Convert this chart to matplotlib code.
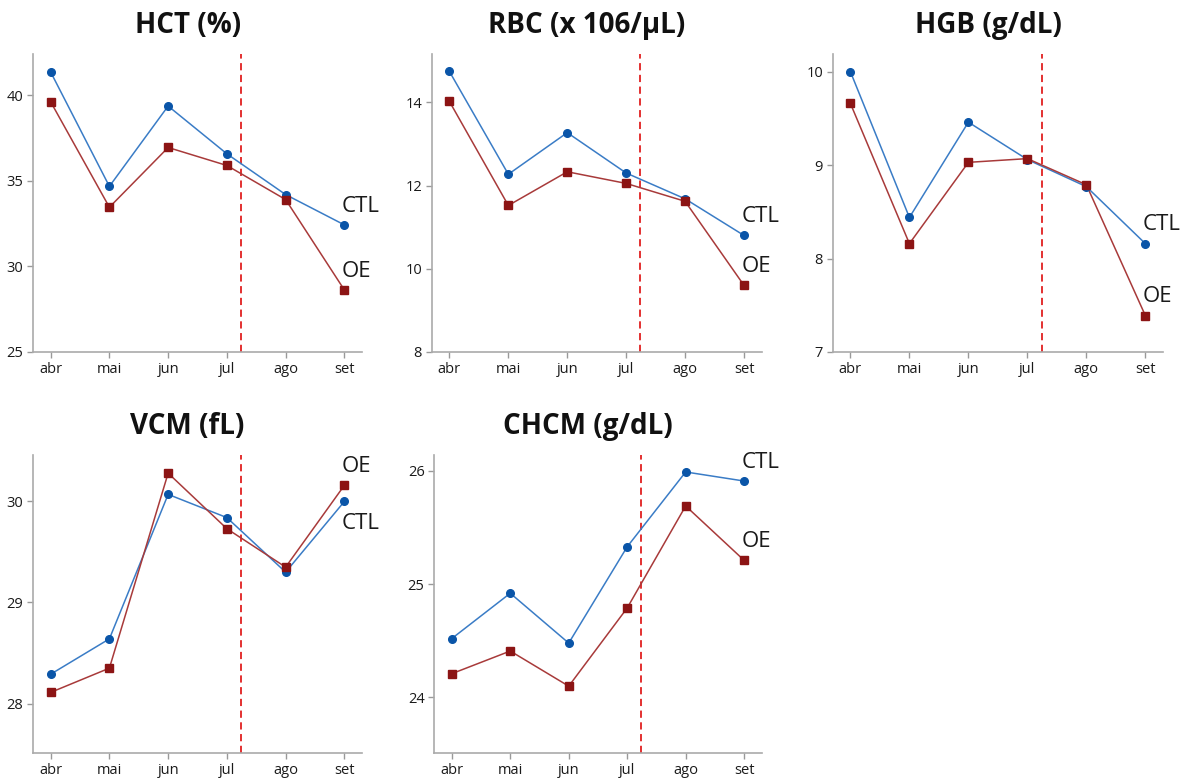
import numpy as np
import matplotlib
matplotlib.use("Agg")
import matplotlib.pyplot as plt

plt.rcParams['font.family'] = ['Open Sans', 'DejaVu Sans']

meses = ['abr', 'mai', 'jun', 'jul', 'ago', 'set']

# valores
hct_ctl = [41.35, 34.67, 39.36, 36.57, 34.19, 32.42]
hct_oe = [39.61, 33.45, 36.94, 35.89, 33.90, 28.62]

rbc_ctl = [14.74, 12.27, 13.27, 12.30, 11.68, 10.80]
rbc_oe = [14.02, 11.52, 12.33, 12.05, 11.62, 9.60]

hgb_ctl = [10.00, 8.44, 9.46, 9.06, 8.77, 8.16]
hgb_oe = [9.66, 8.16, 9.03, 9.07, 8.79, 7.39]

vcm_ctl = [28.29, 28.64, 30.07, 29.84, 29.30, 30.00]
vcm_oe = [28.11, 28.35, 30.28, 29.73, 29.35, 30.16]

chcm_ctl = [24.52, 24.92, 24.48, 25.33, 25.99, 25.91]
chcm_oe = [24.21, 24.41, 24.10, 24.79, 25.69, 25.21]

titulos = ['HCT (%)', 'RBC (x 106/µL)', 'HGB (g/dL)', 'VCM (fL)', 'CHCM (g/dL)']

# (left, bottom, width, height), ylim, yticks, label placement
paineis = [
    ([0.0277, 0.5476, 0.2760, 0.3830], (25, 42.4), [25, 30, 35, 40], hct_ctl, hct_oe, ('up', 'up')),
    ([0.3622, 0.5476, 0.2768, 0.3830], (8, 15.16), [8, 10, 12, 14], rbc_ctl, rbc_oe, ('up', 'up')),
    ([0.6986, 0.5476, 0.2771, 0.3830], (7, 10.19), [7, 8, 9, 10], hgb_ctl, hgb_oe, ('up', 'up')),
    ([0.0277, 0.0321, 0.2760, 0.3831], (27.51, 30.46), [28, 29, 30], vcm_ctl, vcm_oe, ('down', 'up')),
    ([0.3643, 0.0321, 0.2747, 0.3831], (23.51, 26.14), [24, 25, 26], chcm_ctl, chcm_oe, ('up', 'up')),
]

azul_linha = '#3a7cc6'
azul_marca = '#0a55a8'
verm_linha = '#a83a3a'
verm_marca = '#8c1414'

fig = plt.figure(figsize=(11.92, 7.78), dpi=100)

x = np.arange(len(meses))
for i, (pos, ylim, yt, ctl, oe, lado) in enumerate(paineis):
    ax = fig.add_axes(pos)
    ax.plot(x, ctl, color=azul_linha, lw=1.1, zorder=3)
    ax.plot(x, ctl, 'o', color=azul_marca, ms=5.5, zorder=4)
    ax.plot(x, oe, color=verm_linha, lw=1.1, zorder=3)
    ax.plot(x, oe, 's', color=verm_marca, ms=5.5, zorder=4)
    ax.axvline(3.24, color='#e02020', ls=(0, (4, 2.5)), lw=1.3, zorder=2)

    ax.set_xlim(-0.30, 5.30)
    ax.set_ylim(*ylim)
    ax.set_xticks(x)
    ax.set_xticklabels(meses)
    ax.set_yticks(yt)

    for s in ['top', 'right']:
        ax.spines[s].set_visible(False)
    for s in ['left', 'bottom']:
        ax.spines[s].set_color('#aaaaaa')
        ax.spines[s].set_linewidth(1.2)
    ax.tick_params(axis='both', colors='#999999', labelcolor='#1a1a1a',
                   labelsize=10.5, length=4, width=1, direction='out', pad=3)

    for val, nome, l in [(ctl[-1], 'CTL', lado[0]), (oe[-1], 'OE', lado[1])]:
        if l == 'up':
            ax.annotate(nome, (5, val), xytext=(-2, 6), textcoords='offset points',
                        ha='left', va='bottom', fontsize=16, color='#1a1a1a')
        else:
            ax.annotate(nome, (5, val), xytext=(-2, -8), textcoords='offset points',
                        ha='left', va='top', fontsize=16, color='#1a1a1a')

    ax.text(0.47, 1.097, titulos[i], transform=ax.transAxes, ha='center', va='center',
            fontsize=20, fontweight='bold', color='#111111')

fig.savefig('out.png', dpi=100)
